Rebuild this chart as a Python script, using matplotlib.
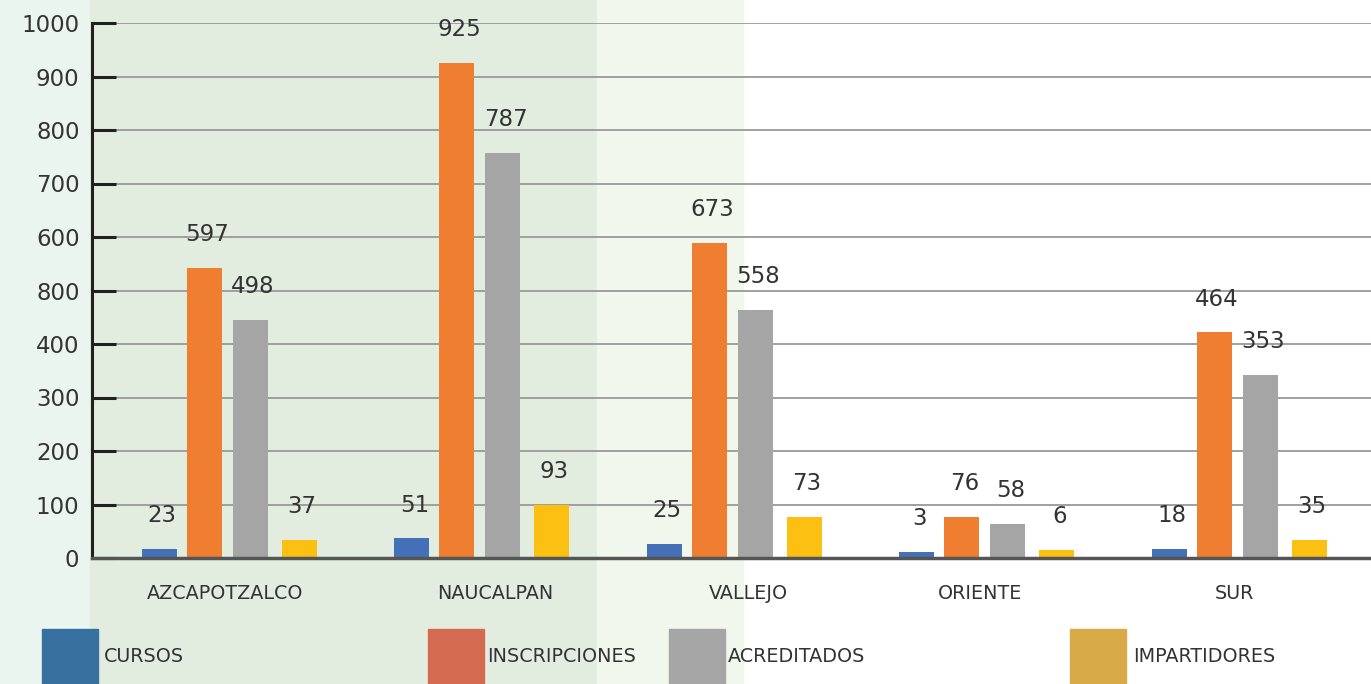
import matplotlib.pyplot as plt
import matplotlib.patches as mpatches
import numpy as np

plt.rcParams['font.family'] = ['DejaVu Sans']

# data
planteles = ["AZCAPOTZALCO", "NAUCALPAN", "VALLEJO", "ORIENTE", "SUR"]
series = ["CURSOS", "INSCRIPCIONES", "ACREDITADOS", "IMPARTIDORES"]
# bar heights as drawn
cursos = [17, 37, 26, 11, 17]
inscripciones = [542, 925, 589, 77, 422]
acreditados = [445, 757, 464, 64, 342]
impartidores = [34, 99, 77, 15, 34]
# numbers printed above the bars
lbl_cursos = [23, 51, 25, 3, 18]
lbl_inscripciones = [597, 925, 673, 76, 464]
lbl_acreditados = [498, 787, 558, 58, 353]
lbl_impartidores = [37, 93, 73, 6, 35]
yticks = [0, 100, 200, 300, 400, 500, 600, 700, 800, 900, 1000]
ytick_labels = ["0", "100", "200", "300", "400", "800", "600", "700", "800", "900", "1000"]

bar_colors = ["#4470b8", "#ef7e31", "#a5a5a5", "#fcc012"]
legend_colors = ["#35709f", "#d46b50", "#a5a5a5", "#d8aa48"]
txt = "#333333"

fig = plt.figure(figsize=(13.71, 6.84), dpi=100)
W, H = 1371, 684

# background bands
for x0, x1, c in [(0, 90, "#ebf5f0"), (90, 597, "#e2ede0"), (597, 743, "#f1f7ec")]:
    fig.patches.append(mpatches.Rectangle((x0 / W, 0), (x1 - x0) / W, 1,
                                          transform=fig.transFigure, color=c, zorder=-1))

ax = fig.add_axes([92 / W, (H - 558) / H, (W - 92) / W, 535 / H])
ax.patch.set_alpha(0)
ax.set_zorder(1)

x = np.arange(len(planteles))
bw = 35 / 252.5
offsets = np.array([-70, -25, 21, 70]) / 252.5
label_shift = np.array([-4.5, 13.5, 14, -7, -5]) / 252.5
vals = [cursos, inscripciones, acreditados, impartidores]
lbls = [lbl_cursos, lbl_inscripciones, lbl_acreditados, lbl_impartidores]
for i in range(4):
    ax.bar(x + offsets[i], vals[i], bw, color=bar_colors[i], zorder=3)
    for xi, v, l in zip(x + offsets[i], vals[i], lbls[i]):
        ax.text(xi + 0.01, v + 62, str(l), ha='center', va='center', fontsize=16.5, color=txt, zorder=4)

ax.set_xlim(-0.5446, 4.521)
ax.set_ylim(0, 1000)
ax.set_yticks(yticks)
ax.set_yticklabels(ytick_labels, fontsize=16.5, color=txt)
ax.set_xticks(x + label_shift)
ax.set_xticklabels(planteles, fontsize=13.8, color=txt)
ax.tick_params(axis='x', length=0, pad=19)
ax.tick_params(axis='y', direction='in', length=17, width=2.2, color="#231f20", pad=9)
ax.yaxis.grid(True, color="#999999", linewidth=1.3, zorder=1)
ax.set_axisbelow(True)
for s in ["top", "right"]:
    ax.spines[s].set_visible(False)
ax.spines["left"].set_color("#231f20")
ax.spines["left"].set_linewidth(2.2)
ax.spines["bottom"].set_color("#555555")
ax.spines["bottom"].set_linewidth(2.5)
ax.spines["bottom"].set_zorder(5)

# legend drawn by hand under the chart
legend_x = [42, 428, 669, 1070]
text_x = [104, 487, 728, 1133]
for c, lx, tx, name in zip(legend_colors, legend_x, text_x, series):
    fig.patches.append(mpatches.Rectangle((lx / W, 0), 56 / W, 55 / H,
                                          transform=fig.transFigure, color=c, zorder=2))
    fig.text(tx / W, (H - 657) / H, name, fontsize=13.8, color=txt, va='center', ha='left')

fig.savefig("out.png", dpi=100)
